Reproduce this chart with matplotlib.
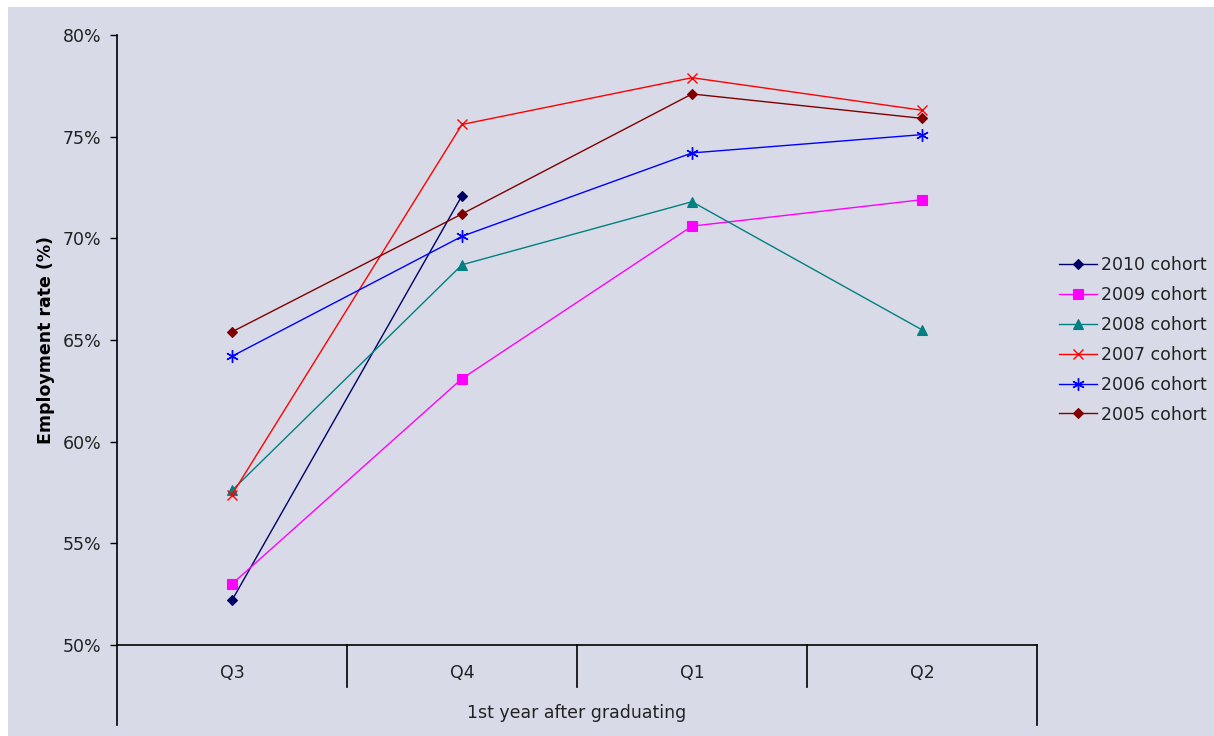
import matplotlib.pyplot as plt
from matplotlib.patches import Rectangle

plt.rcParams["font.family"] = ["DejaVu Sans"]

quarters = ["Q3", "Q4", "Q1", "Q2"]
cohort_2010 = [52.2, 72.1]
cohort_2009 = [53.0, 63.1, 70.6, 71.9]
cohort_2008 = [57.6, 68.7, 71.8, 65.5]
cohort_2007 = [57.4, 75.6, 77.9, 76.3]
cohort_2006 = [64.2, 70.1, 74.2, 75.1]
cohort_2005 = [65.4, 71.2, 77.1, 75.9]

series = [
    ("2010 cohort", cohort_2010, "#000066", "D", 5.5),
    ("2009 cohort", cohort_2009, "#FF00FF", "s", 6.5),
    ("2008 cohort", cohort_2008, "#008080", "^", 6.5),
    ("2007 cohort", cohort_2007, "#FF0000", "x", 7),
    ("2006 cohort", cohort_2006, "#0000FF", (6, 2, 0), 9),
    ("2005 cohort", cohort_2005, "#800000", "D", 5.5),
]

bg = "#D8DBE7"
txt = "#222222"
fs = 12.5
fig = plt.figure(figsize=(12.14, 7.36), dpi=100, facecolor="white")
fig.patches.append(Rectangle((8 / 1214, 0), 1, 1 - 7 / 736, transform=fig.transFigure,
                             facecolor=bg, edgecolor="none", zorder=-10))
ax = fig.add_axes([117 / 1214, 1 - 645 / 736, 920 / 1214, 610 / 736])
ax.set_facecolor(bg)

for label, vals, color, marker, ms in series:
    ax.plot(range(len(vals)), vals, color=color, lw=1.0, marker=marker, ms=ms,
            markeredgewidth=1.0 if marker == "x" or isinstance(marker, tuple) else 0.8,
            markerfacecolor=color, markeredgecolor=color, label=label)

ax.set_xlim(-0.5, 3.5)
ax.set_ylim(50, 80)
ax.set_yticks(range(50, 81, 5))
ax.set_yticklabels([f"{v}%" for v in range(50, 81, 5)], fontsize=fs, color=txt)
ax.tick_params(axis="y", direction="out", length=5, width=1, pad=6)
ax.set_xticks([])
for s in ["top", "right"]:
    ax.spines[s].set_visible(False)
ax.spines["left"].set_linewidth(1.2)
ax.spines["bottom"].set_linewidth(1.2)

ax.set_ylabel("Employment rate (%)", fontsize=fs, fontweight="bold", labelpad=6, color="black")

# category axis box below the plot
tr = ax.get_xaxis_transform()
ax.plot([-0.5, -0.5], [0, -80 / 610], transform=tr, color="black", lw=1.2, clip_on=False)
ax.plot([3.5, 3.5], [0, -80 / 610], transform=tr, color="black", lw=1.2, clip_on=False)
for xb in [0.5, 1.5, 2.5]:
    ax.plot([xb, xb], [0, -42 / 610], transform=tr, color="black", lw=1.2, clip_on=False)
for i, q in enumerate(quarters):
    ax.text(i, -28 / 610, q, transform=tr, ha="center", va="center", fontsize=fs, color=txt)
ax.text(1.5, -68 / 610, "1st year after graduating", transform=tr, ha="center", va="center",
        fontsize=fs, color=txt)

leg = fig.legend(loc="center left", bbox_to_anchor=(1052 / 1214, 1 - 340 / 736), frameon=False,
                 fontsize=fs, handlelength=2.2, handletextpad=0.2, labelspacing=0.68,
                 borderaxespad=0)
for t in leg.get_texts():
    t.set_color(txt)

fig.savefig("out.png", dpi=100, facecolor="white")
